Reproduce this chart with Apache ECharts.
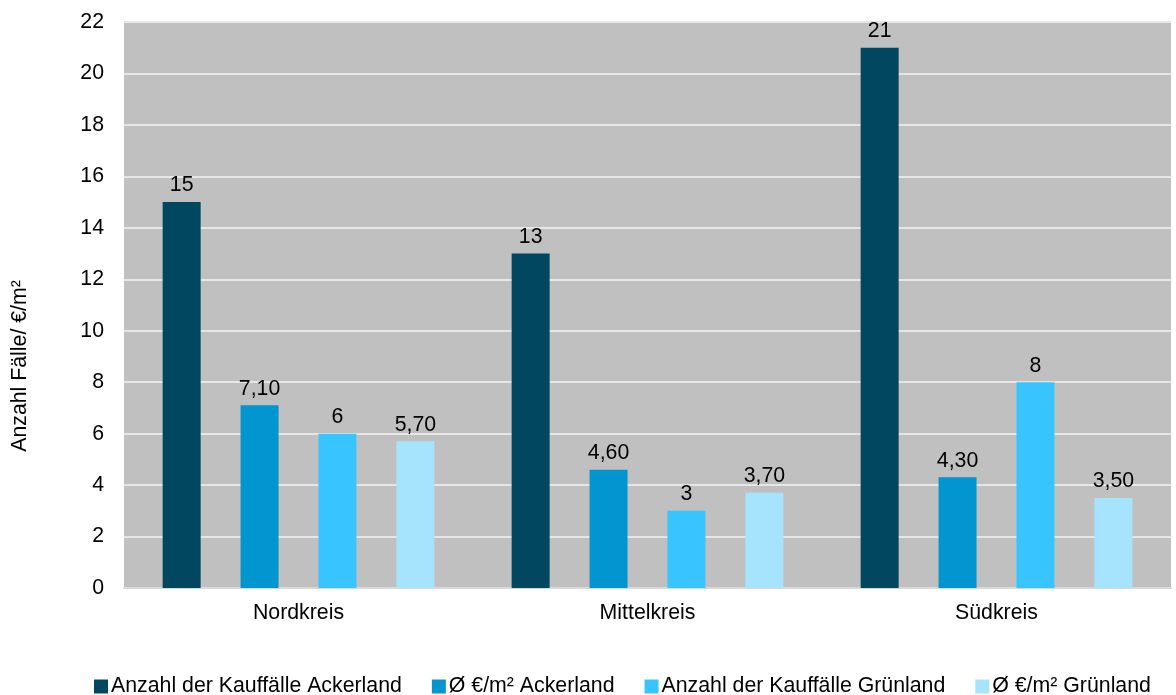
<!DOCTYPE html>
<html>
<head>
<meta charset="utf-8">
<script src="https://cdn.jsdelivr.net/npm/echarts@6/dist/echarts.min.js"></script>
<style>
  html, body { margin: 0; padding: 0; background: #ffffff; }
  #chart { width: 1176px; height: 695px; }
</style>
</head>
<body>
<div id="chart"></div>
<script>
// Kreise (Kategorien)
const categories = ['Nordkreis', 'Mittelkreis', 'Südkreis'];

// Serien
const seriesNames = [
  'Anzahl der Kauffälle Ackerland',
  'Ø €/m² Ackerland',
  'Anzahl der Kauffälle Grünland',
  'Ø €/m² Grünland'
];
const anzahlAckerland = [15, 13, 21];
const preisAckerland = [7.10, 4.60, 4.30];
const anzahlGruenland = [6, 3, 8];
const preisGruenland = [5.70, 3.70, 3.50];

// Achse
const yMin = 0, yMax = 22, yStep = 2;
const yAxisTitle = 'Anzahl Fälle/ €/m²';

const colors = ['#00475f', '#0395cf', '#38c5ff', '#a6e3fd'];
const FONT = '"Liberation Sans", Arial, sans-serif';
const FS = 21.3;

const intFmt = p => String(Math.round(p.value));
const decFmt = p => p.value.toFixed(2).replace('.', ',');

const seriesData = [anzahlAckerland, preisAckerland, anzahlGruenland, preisGruenland];
const formatters = [intFmt, decFmt, intFmt, decFmt];

const chart = echarts.init(document.getElementById('chart'), null, { renderer: 'canvas' });
chart.setOption({
  animation: false,
  color: colors,
  textStyle: { fontFamily: FONT },
  grid: { left: 124, right: 5, top: 22, bottom: 107, containLabel: false,
          show: true, backgroundColor: '#c0c0c0', borderWidth: 0 },
  legend: {
    top: 676,
    left: 94,
    padding: 0,
    itemWidth: 14,
    itemHeight: 14,
    itemGap: 30,
    icon: 'rect',
    textStyle: { fontSize: FS, color: '#000', fontFamily: FONT, padding: [0, 0, 0, -2] },
    data: seriesNames
  },
  // Achsentitel, senkrecht links
  graphic: [{
    type: 'text',
    x: 20,
    y: 366,
    rotation: Math.PI / 2,
    style: {
      text: yAxisTitle,
      fontSize: FS,
      fontFamily: FONT,
      fill: '#000',
      align: 'center',
      verticalAlign: 'middle'
    }
  }],
  xAxis: {
    type: 'category',
    data: categories,
    axisLine: { show: true, lineStyle: { color: '#d9d9d9', width: 2 } },
    axisTick: { show: false },
    axisLabel: { fontSize: FS, color: '#000', margin: 15, fontFamily: FONT },
    splitLine: { show: false }
  },
  yAxis: {
    type: 'value',
    min: yMin, max: yMax, interval: yStep,
    axisLine: { show: false },
    axisTick: { show: false },
    axisLabel: { fontSize: FS, color: '#000', margin: 20, fontFamily: FONT },
    splitLine: { show: true, lineStyle: { color: '#e6e6e6', width: 2 } }
  },
  series: seriesNames.map((name, i) => ({
    name,
    type: 'bar',
    data: seriesData[i],
    barWidth: 38,
    barGap: '105%',
    barCategoryGap: '22%',
    itemStyle: { color: colors[i] },
    label: {
      show: true,
      position: 'top',
      distance: 6,
      fontSize: FS,
      color: '#000',
      fontFamily: FONT,
      formatter: formatters[i]
    }
  }))
});
</script>
</body>
</html>
